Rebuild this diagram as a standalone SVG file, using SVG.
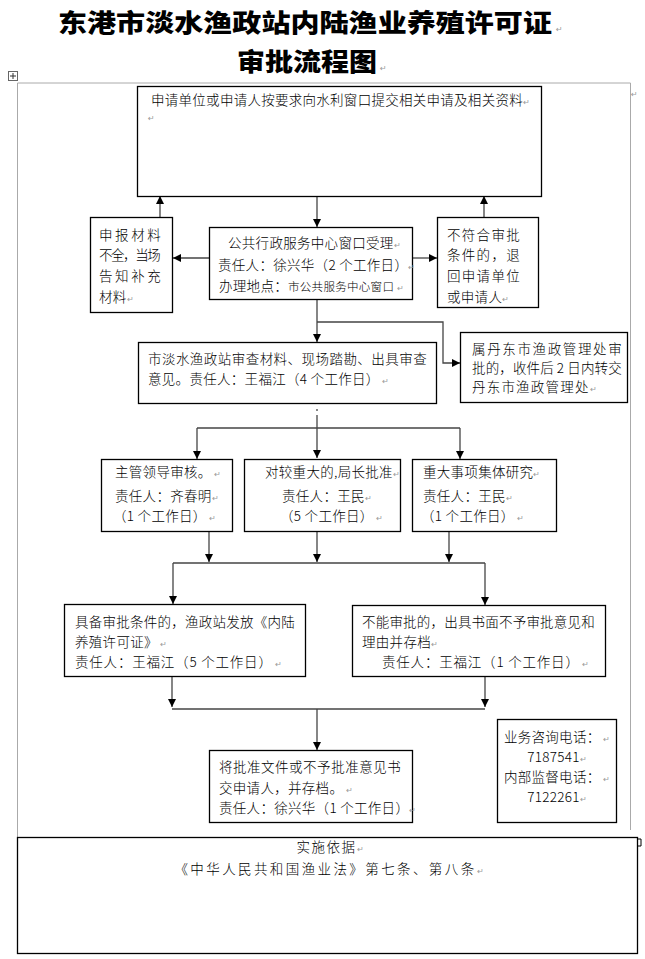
<svg xmlns="http://www.w3.org/2000/svg" width="645" height="959" viewBox="0 0 645 959">
<style>
.bx{fill:#fff;stroke:#000;stroke-width:1.3}
.t{font-family:"Noto Sans CJK SC","Liberation Sans",sans-serif;font-size:13.5px;font-weight:300;fill:#000;letter-spacing:0.3px}
.s{font-size:11.5px}
.r{font-family:"DejaVu Sans",sans-serif;font-size:8px;fill:#999;letter-spacing:0}
.ti{font-family:"Noto Sans CJK SC","Liberation Sans",sans-serif;font-size:25px;font-weight:900;fill:#000}
.c{fill:none;stroke:#444;stroke-width:1.3}
.g{fill:none;stroke:#aaa;stroke-width:1}
</style>
<defs>
<marker id="ah" markerUnits="userSpaceOnUse" markerWidth="8" markerHeight="8" refX="8" refY="4" orient="auto">
<path d="M0,0 L8,4 L0,8 z" fill="#000"/>
</marker>
</defs>

<g id="title">
<text class="ti" x="58" y="32" textLength="494" lengthAdjust="spacingAndGlyphs">东港市淡水渔政站内陆渔业养殖许可证</text>
<text class="r" x="556" y="32">↵</text>
<text class="ti" x="237" y="71" textLength="140" lengthAdjust="spacingAndGlyphs">审批流程图</text>
<text class="r" x="380" y="71">↵</text>
</g>

<g id="frame">
<rect x="8.5" y="71.5" width="9" height="9" fill="#fff" stroke="#666" stroke-width="1"/>
<path d="M13,73 V79 M10,76 H16" stroke="#333" stroke-width="1"/>
<path class="g" d="M17.5,83 H630.5 M17.5,83 V837 M630.5,83 V830"/>
<text class="r" x="631" y="97">↵</text>
</g>

<g id="connectors">
<path class="c" d="M317,196 V227" marker-end="url(#ah)"/>
<path class="c" d="M209,258 H173" marker-end="url(#ah)"/>
<path class="c" d="M413,258 H437" marker-end="url(#ah)"/>
<path class="c" d="M160,217 V196" marker-end="url(#ah)"/>
<path class="c" d="M484,217 V196" marker-end="url(#ah)"/>
<path class="c" d="M317,300 V342" marker-end="url(#ah)"/>
<path class="c" d="M317,322 H443 V363 H460" marker-end="url(#ah)"/>
<path class="c" d="M317,409 V411"/>
<path class="c" d="M317,415 V458" marker-end="url(#ah)"/>
<path class="c" d="M197,428 H460"/>
<path class="c" d="M197,428 V459" marker-end="url(#ah)"/>
<path class="c" d="M460,428 V459" marker-end="url(#ah)"/>
<path class="c" d="M209,532 V562" marker-end="url(#ah)"/>
<path class="c" d="M317,532 V562" marker-end="url(#ah)"/>
<path class="c" d="M449,532 V562" marker-end="url(#ah)"/>
<path class="c" d="M173,563 H485"/>
<path class="c" d="M173,563 V604" marker-end="url(#ah)"/>
<path class="c" d="M485,563 V605" marker-end="url(#ah)"/>
<path class="c" d="M172,677 V707" marker-end="url(#ah)"/>
<path class="c" d="M485,677 V707" marker-end="url(#ah)"/>
<path class="c" d="M172,709 H485"/>
<path class="c" d="M317,709 V750" marker-end="url(#ah)"/>
</g>

<g id="n1">
<rect class="bx" x="137.5" y="86.5" width="404" height="110"/>
<text class="t" x="151" y="105"><tspan textLength="372" lengthAdjust="spacing">申请单位或申请人按要求向水利窗口提交相关申请及相关资料</tspan><tspan class="r">↵</tspan></text>
<text class="r" x="148" y="121">↵</text>
</g>

<g id="n2">
<rect class="bx" x="209.5" y="227.5" width="203" height="72"/>
<text class="t" x="228" y="248">公共行政服务中心窗口受理<tspan class="r">↵</tspan></text>
<text class="t" x="218" y="270">责任人：徐兴华（2 个工作日）<tspan class="r">↵</tspan></text>
<text class="t" x="219" y="291">办理地点：<tspan class="s">市公共服务中心窗口</tspan><tspan class="r"> ↵</tspan></text>
</g>

<g id="n3">
<rect class="bx" x="90.5" y="217.5" width="82" height="95"/>
<text class="t" x="99" y="240" textLength="62" lengthAdjust="spacing">申报材料</text>
<text class="t" x="99" y="260" textLength="62" lengthAdjust="spacing">不全，当场</text>
<text class="t" x="99" y="281" textLength="62" lengthAdjust="spacing">告知补充</text>
<text class="t" x="99" y="302">材料<tspan class="r">↵</tspan></text>
</g>

<g id="n4">
<rect class="bx" x="437.5" y="217.5" width="101" height="90"/>
<text class="t" x="447" y="240" textLength="73" lengthAdjust="spacing">不符合审批</text>
<text class="t" x="447" y="260" textLength="73" lengthAdjust="spacing">条件的，退</text>
<text class="t" x="447" y="281" textLength="73" lengthAdjust="spacing">回申请单位</text>
<text class="t" x="447" y="302">或申请人<tspan class="r">↵</tspan></text>
</g>

<g id="n5">
<rect class="bx" x="138.5" y="342.5" width="298" height="61"/>
<text class="t" x="148" y="364" textLength="279" lengthAdjust="spacing">市淡水渔政站审查材料、现场踏勘、出具审查</text>
<text class="t" x="148" y="384">意见。责任人：王福江（4 个工作日）<tspan class="r"> ↵</tspan></text>
</g>

<g id="n6">
<rect class="bx" x="460.5" y="332.5" width="167" height="70"/>
<text class="t" x="472" y="354" textLength="150" lengthAdjust="spacing">属丹东市渔政管理处审</text>
<text class="t" x="472" y="373" textLength="150" lengthAdjust="spacing">批的，收件后 2 日内转交</text>
<text class="t" x="472" y="392" style="letter-spacing:1.2px">丹东市渔政管理处<tspan class="r">↵</tspan></text>
</g>

<g id="n7">
<rect class="bx" x="101.5" y="459.5" width="131" height="72"/>
<text class="t" x="115" y="477">主管领导审核。<tspan class="r"> ↵</tspan></text>
<text class="t" x="115" y="501">责任人：齐春明<tspan class="r">↵</tspan></text>
<text class="t" x="113" y="521">（1 个工作日）<tspan class="r"> ↵</tspan></text>
</g>

<g id="n8">
<rect class="bx" x="244.5" y="459.5" width="156" height="72"/>
<text class="t" x="265" y="477">对较重大的,局长批准<tspan class="r">↵</tspan></text>
<text class="t" x="282" y="501">责任人：王民<tspan class="r">↵</tspan></text>
<text class="t" x="280" y="521">（5 个工作日）<tspan class="r"> ↵</tspan></text>
</g>

<g id="n9">
<rect class="bx" x="412.5" y="459.5" width="144" height="72"/>
<text class="t" x="423" y="477">重大事项集体研究<tspan class="r">↵</tspan></text>
<text class="t" x="423" y="501">责任人：王民<tspan class="r">↵</tspan></text>
<text class="t" x="421" y="521">（1 个工作日）<tspan class="r"> ↵</tspan></text>
</g>

<g id="n10">
<rect class="bx" x="64.5" y="604.5" width="241" height="72"/>
<text class="t" x="75" y="627" textLength="220" lengthAdjust="spacing">具备审批条件的，渔政站发放《内陆</text>
<text class="t" x="75" y="647">养殖许可证》<tspan class="r"> ↵</tspan></text>
<text class="t" x="75" y="667" style="letter-spacing:0.8px">责任人：王福江（5 个工作日）<tspan class="r"> ↵</tspan></text>
</g>

<g id="n11">
<rect class="bx" x="352.5" y="605.5" width="253" height="71"/>
<text class="t" x="362" y="627" textLength="233" lengthAdjust="spacing">不能审批的，出具书面不予审批意见和</text>
<text class="t" x="362" y="647">理由并存档<tspan class="r">↵</tspan></text>
<text class="t" x="382" y="667" style="letter-spacing:0.8px">责任人：王福江（1 个工作日）<tspan class="r"> ↵</tspan></text>
</g>

<g id="n12">
<rect class="bx" x="209.5" y="750.5" width="203" height="72"/>
<text class="t" x="219" y="772" textLength="182" lengthAdjust="spacing">将批准文件或不予批准意见书</text>
<text class="t" x="219" y="793">交申请人，并存档。<tspan class="r"> ↵</tspan></text>
<text class="t" x="219" y="813">责任人：徐兴华（1 个工作日）<tspan class="r">↵</tspan></text>
</g>

<g id="n13">
<rect class="bx" x="497.5" y="719.5" width="119" height="103"/>
<text class="t" x="557" y="742" text-anchor="middle">业务咨询电话：<tspan class="r"> ↵</tspan></text>
<text class="t" x="557" y="762" text-anchor="middle">7187541<tspan class="r">↵</tspan></text>
<text class="t" x="557" y="782" text-anchor="middle">内部监督电话：<tspan class="r"> ↵</tspan></text>
<text class="t" x="557" y="802" text-anchor="middle">7122261<tspan class="r">↵</tspan></text>
</g>

<g id="n14">
<rect class="bx" x="17.5" y="837.5" width="620" height="116"/>
<path d="M637.5,839 H641 V846 H637.5" fill="none" stroke="#000" stroke-width="1"/>
<text class="t" x="330" y="852" text-anchor="middle" style="letter-spacing:1.5px">实施依据<tspan class="r">↵</tspan></text>
<text class="t" x="329" y="874" text-anchor="middle" style="letter-spacing:2.4px">《中华人民共和国渔业法》第七条、第八条<tspan class="r">↵</tspan></text>
</g>
</svg>
